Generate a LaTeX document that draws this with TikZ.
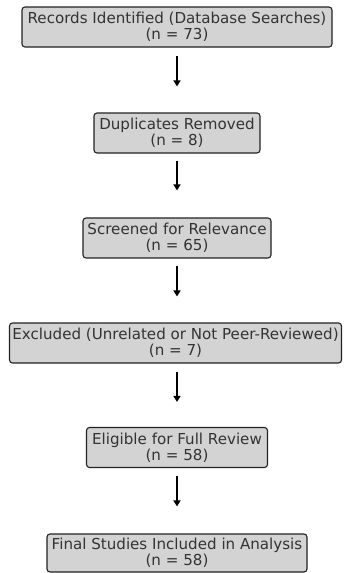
\documentclass[tikz,border=0pt]{standalone}
\usepackage{fontspec}
\setmainfont{DejaVu Sans}
\usetikzlibrary{arrows.meta}
\definecolor{boxfill}{HTML}{D3D3D3}
\definecolor{txt}{HTML}{333333}
\definecolor{edge}{HTML}{222222}
\tikzset{
  flowbox/.style={draw=edge, line width=1.1pt, fill=boxfill, rounded corners=3pt,
    align=center, text=txt, font=\fontsize{15.1}{16}\selectfont,
    inner xsep=0pt, inner ysep=0pt, minimum height=40pt},
  flowarrow/.style={draw=black, line width=1.5pt, -{Triangle[length=6pt,width=7pt]}}
}
\begin{document}
\begin{tikzpicture}[x=1pt,y=1pt]
\useasboundingbox (0,0) rectangle (343,-573);
\node[flowbox, minimum width=310pt] (b1) at (177,-27) {Records Identified (Database Searches)\\(n = 73)};
\node[flowbox, minimum width=166pt] (b2) at (177,-133) {Duplicates Removed\\(n = 8)};
\node[flowbox, minimum width=188pt] (b3) at (177,-238) {Screened for Relevance\\(n = 65)};
\node[flowbox, minimum width=332pt] (b4) at (175.5,-343) {Excluded (Unrelated or Not Peer-Reviewed)\\(n = 7)};
\node[flowbox, minimum width=181pt] (b5) at (177,-447.5) {Eligible for Full Review\\(n = 58)};
\node[flowbox, minimum width=260pt, minimum height=38pt] (b6) at (177,-553) {Final Studies Included in Analysis\\(n = 58)};
\draw[flowarrow, shorten >=26pt] ([yshift=-8pt]b1.south) -- (b1.south |- b2.north);
\draw[flowarrow, shorten >=27pt] ([yshift=-7pt]b2.south) -- (b2.south |- b3.north);
\draw[flowarrow, shorten >=26pt] ([yshift=-7pt]b3.south) -- (b3.south |- b4.north);
\draw[flowarrow, shorten <=8pt, shorten >=25pt] (b5.north |- b4.south) -- (b5.north);
\draw[flowarrow, shorten >=27pt] ([yshift=-8pt]b5.south) -- (b5.south |- b6.north);
\end{tikzpicture}
\end{document}
